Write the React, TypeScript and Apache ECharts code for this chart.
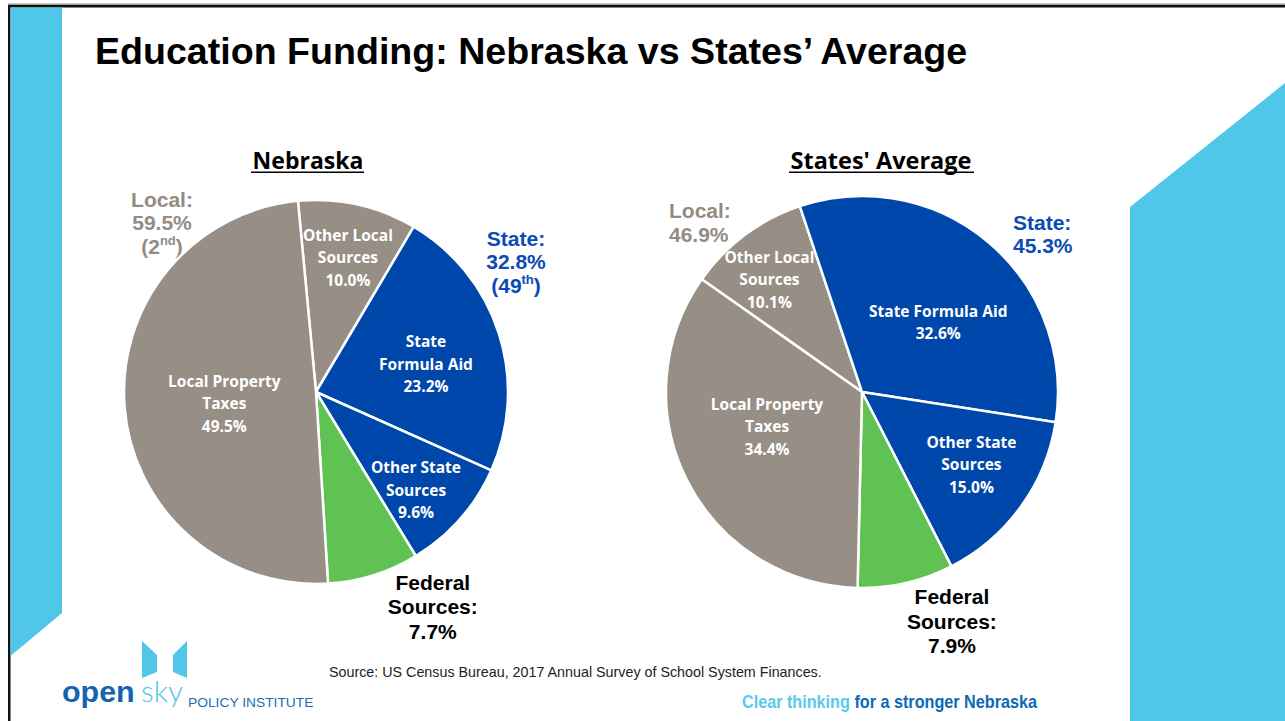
import React, { useEffect, useRef } from "react";
import * as echarts from "echarts";

// ---------- data ----------
const categories = [
  "Other Local Sources",
  "State Formula Aid",
  "Other State Sources",
  "Federal Sources",
  "Local Property Taxes",
];
const nebraskaValues = [10.0, 23.2, 9.6, 7.7, 49.5];
const statesValues = [10.1, 32.6, 15.0, 7.9, 34.4];
const nebraskaLabelText = ["Other Local\nSources", "State\nFormula Aid", "Other State\nSources", "Federal\nSources:", "Local Property\nTaxes"];
const statesLabelText = ["Other Local\nSources", "State Formula Aid", "Other State\nSources", "Federal\nSources:", "Local Property\nTaxes"];
const sliceGroup = ["local", "state", "state", "federal", "local"];

const nebraskaGroupLabels = { local: ["Local:", "59.5%", "2", "nd"], state: ["State:", "32.8%", "49", "th"] };
const statesGroupLabels = { local: ["Local:", "46.9%"], state: ["State:", "45.3%"] };

const titleText = "Education Funding: Nebraska vs States\u2019 Average";
const subtitles = ["Nebraska", "States' Average"];
const sourceText = "Source: US Census Bureau, 2017 Annual Survey of School System Finances.";
const taglineParts = ["Clear thinking", " for a stronger Nebraska"];

// ---------- layout / style ----------
const COLORS: Record<string, string> = { local: "#978E85", state: "#0047AB", federal: "#60C253" };
const LOCAL_TEXT = "#948B83";
const STATE_TEXT = "#0B4BB3";
const CYAN = "#50C6E8";
const ARIAL = "Arial, 'Liberation Sans', sans-serif";
const CAL = "'Open Sans', 'Noto Sans', sans-serif";

const NEB = { center: [316, 392], radius: 192, start: 95.4 };
const STA = { center: [862, 392], radius: 196, start: 144.86 };

// label shifts (px) from the half-radius spot on each slice's middle angle
const nebraskaShift = [[11, -41], [18.5, 1], [28, 34.5], [88, 123], [4, 3.5]];
const statesShift = [[-34, -34], [13, 5], [30, 15], [68, 133.5], [-7.5, -10]];

function buildData(values: number[]) {
  return values.map((v, i) => ({
    name: categories[i],
    value: v,
    itemStyle: { color: COLORS[sliceGroup[i]] },
  }));
}

function pieSeries(cfg: { center: number[]; radius: number; start: number }, values: number[]) {
  return {
    type: "pie",
    center: cfg.center,
    radius: cfg.radius,
    startAngle: cfg.start,
    clockwise: true,
    silent: true,
    itemStyle: { borderColor: "#fff", borderWidth: 2.5 },
    label: { show: false },
    labelLine: { show: false },
    emphasis: { disabled: true },
    data: buildData(values),
  };
}

function sliceLabels(
  cfg: { center: number[]; radius: number; start: number },
  values: number[],
  texts: string[],
  shifts: number[][]
) {
  const total = values.reduce((a, b) => a + b, 0);
  let acc = 0;
  return values.map((v, i) => {
    const mid = ((cfg.start - ((acc + v / 2) / total) * 360) * Math.PI) / 180;
    acc += v;
    const fed = sliceGroup[i] === "federal";
    return {
      type: "text",
      silent: true,
      x: cfg.center[0] + (cfg.radius / 2) * Math.cos(mid) + shifts[i][0],
      y: cfg.center[1] - (cfg.radius / 2) * Math.sin(mid) + shifts[i][1],
      z: 10,
      style: {
        text: texts[i] + "\n" + v.toFixed(1) + "%",
        fill: fed ? "#000" : "#fff",
        font: fed ? `bold 21px ${ARIAL}` : `bold 15.5px ${CAL}`,
        lineHeight: fed ? 24.5 : 22.5,
        align: "center",
        verticalAlign: "middle",
      },
    };
  });
}

export default function App() {
  const ref = useRef<HTMLDivElement>(null);
  useEffect(() => {
    if (!ref.current) return;
    const chart = echarts.init(ref.current, undefined, { renderer: "svg" });
    const groupText = (x: number, y: number, lines: string[], color: string, align: string) => {
      const sup = lines.length > 2 ? `\n{v|(${lines[2]}}{s|${lines[3]}}{v|)}` : "";
      return {
        type: "text",
        x,
        y,
        silent: true,
        style: {
          text: `{v|${lines[0]}}\n{v|${lines[1]}}${sup}`,
          fill: color,
          align,
          verticalAlign: "middle",
          rich: {
            v: { fontFamily: ARIAL, fontWeight: "bold", fontSize: 21, lineHeight: 23.5, fill: color },
            s: { fontFamily: ARIAL, fontWeight: "bold", fontSize: 13, lineHeight: 13, verticalAlign: "top", fill: color },
          },
        },
      };
    };
    chart.setOption({
      animation: false,
      backgroundColor: "#fff",
      series: [pieSeries(NEB, nebraskaValues), pieSeries(STA, statesValues)],
      graphic: [
        { type: "rect", silent: true, shape: { x: 8, y: 3.5, width: 1277, height: 1.5 }, style: { fill: "#9a9a9a" } },
        { type: "rect", silent: true, shape: { x: 8, y: 5, width: 1277, height: 2.5 }, style: { fill: "#111" } },
        { type: "rect", silent: true, shape: { x: 8, y: 5, width: 2.5, height: 716 }, style: { fill: "#111" } },
        { type: "polygon", silent: true, shape: { points: [[10.5, 7.5], [62, 7.5], [62, 613], [10.5, 656]] }, style: { fill: CYAN } },
        { type: "polygon", silent: true, shape: { points: [[1130, 207], [1285, 83], [1285, 721], [1130, 721]] }, style: { fill: CYAN } },
        {
          type: "text", x: 95, y: 51, silent: true,
          style: { text: titleText, font: `bold 37.6px ${ARIAL}`, fill: "#000", align: "left", verticalAlign: "middle" },
        },
        {
          type: "text", x: 308, y: 160, silent: true,
          style: { text: subtitles[0], font: `bold 23px ${CAL}`, fill: "#000", align: "center", verticalAlign: "middle" },
        },
        { type: "rect", silent: true, shape: { x: 251, y: 171.5, width: 113, height: 1.6 }, style: { fill: "#000" } },
        {
          type: "text", x: 881, y: 160, silent: true,
          style: { text: subtitles[1], font: `bold 23.5px ${CAL}`, fill: "#000", align: "center", verticalAlign: "middle" },
        },
        { type: "rect", silent: true, shape: { x: 789, y: 171.5, width: 185, height: 1.6 }, style: { fill: "#000" } },
        ...sliceLabels(NEB, nebraskaValues, nebraskaLabelText, nebraskaShift),
        ...sliceLabels(STA, statesValues, statesLabelText, statesShift),
        groupText(162, 222.5, nebraskaGroupLabels.local, LOCAL_TEXT, "center"),
        groupText(516, 261.5, nebraskaGroupLabels.state, STATE_TEXT, "center"),
        groupText(669, 222.5, statesGroupLabels.local, LOCAL_TEXT, "left"),
        groupText(1013, 234, statesGroupLabels.state, STATE_TEXT, "left"),
        {
          type: "text", x: 329, y: 672, silent: true,
          style: { text: sourceText, font: `14.3px ${ARIAL}`, fill: "#222", align: "left", verticalAlign: "middle" },
        },
        {
          type: "text", x: 742, y: 702, scaleX: 0.875, silent: true,
          style: {
            text: `{a|${taglineParts[0]}}{b|${taglineParts[1]}}`,
            align: "left", verticalAlign: "middle",
            rich: {
              a: { fontFamily: ARIAL, fontWeight: "bold", fontSize: 18.5, fill: "#5CC8EA" },
              b: { fontFamily: ARIAL, fontWeight: "bold", fontSize: 18.5, fill: "#0A6AB4" },
            },
          },
        },
        // logo
        { type: "polygon", silent: true, shape: { points: [[142, 641], [157, 655], [157, 672], [142, 678]] }, style: { fill: CYAN } },
        { type: "polygon", silent: true, shape: { points: [[187, 641], [173, 655], [173, 672], [187, 678]] }, style: { fill: CYAN } },
        {
          type: "text", x: 62, y: 692, scaleX: 1.05, silent: true,
          style: { text: "open", font: `900 29px ${ARIAL}`, fill: "#1464AF", align: "left", verticalAlign: "middle" },
        },
        {
          type: "text", x: 141, y: 690, silent: true,
          style: { text: "sky", font: `300 30px Lato, ${ARIAL}`, fill: CYAN, align: "left", verticalAlign: "middle" },
        },
        {
          type: "text", x: 188, y: 703, scaleX: 1.15, silent: true,
          style: { text: "POLICY INSTITUTE", font: `12px ${ARIAL}`, fill: "#1C6DB5", align: "left", verticalAlign: "middle" },
        },
      ],
    });
    return () => chart.dispose();
  }, []);
  return <div ref={ref} style={{ position: "absolute", left: 0, top: 0, width: 1285, height: 721 }} />;
}
